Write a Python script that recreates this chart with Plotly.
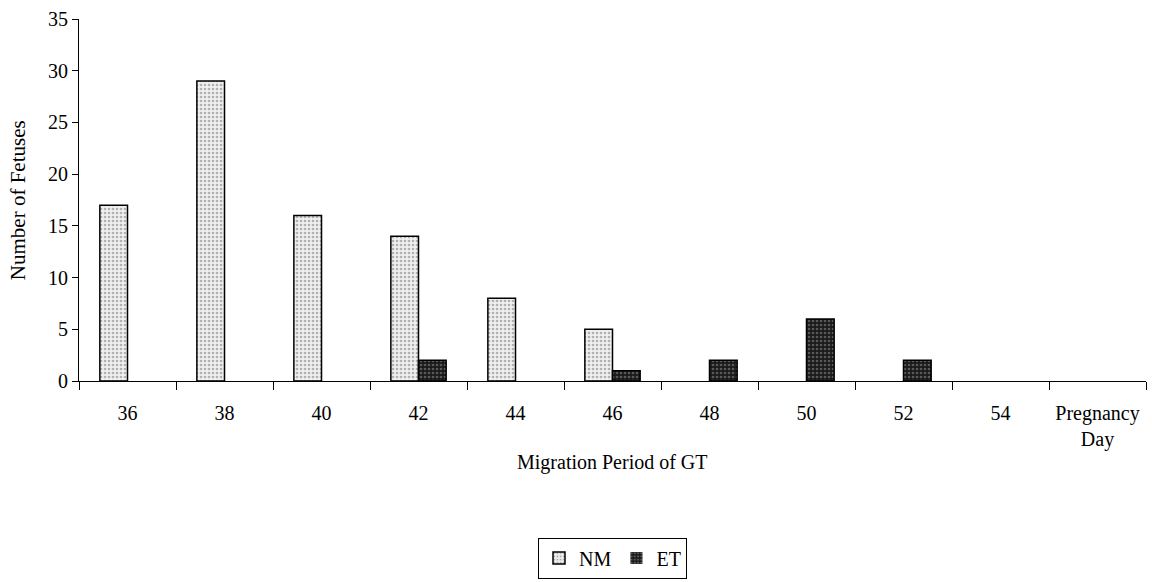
import plotly.graph_objects as go

categories = ["36", "38", "40", "42", "44", "46", "48", "50", "52", "54", "Pregnancy<br>Day"]
nm_values = [17, 29, 16, 14, 8, 5, 0, 0, 0, 0, 0]
et_values = [0, 0, 0, 2, 0, 1, 2, 6, 2, 0, 0]

FONT = "Liberation Serif"

def outline_widths(vals):
    return [1.5 if v else 0 for v in vals]

fig = go.Figure()
fig.add_trace(go.Bar(
    x=categories, y=nm_values, name="NM",
    marker=dict(color="#d8d8d8", line=dict(color="black", width=outline_widths(nm_values)),
                pattern=dict(shape=".", fgcolor="#707070", bgcolor="#f0f0f0", size=4, solidity=0.35)),
))
fig.add_trace(go.Bar(
    x=categories, y=et_values, name="ET",
    marker=dict(color="#333333", line=dict(color="black", width=outline_widths(et_values)),
                pattern=dict(shape=".", fgcolor="#9a9a9a", bgcolor="#1a1a1a", size=4, solidity=0.35)),
))

fig.update_layout(
    width=1152, height=582,
    paper_bgcolor="white", plot_bgcolor="white",
    barmode="group", bargap=0.43, bargroupgap=0,
    margin=dict(l=79, r=6, t=19, b=201, autoexpand=False),
    font=dict(family=FONT, size=20, color="black"),
    showlegend=True,
    legend=dict(orientation="h", x=0.5, xanchor="center", y=-0.489, yanchor="middle",
                bordercolor="black", borderwidth=1, font=dict(size=20, family=FONT),
                itemwidth=30, tracegroupgap=0),
    xaxis=dict(type="category", showline=True, linecolor="black", linewidth=1,
               ticks="outside", tickson="boundaries", ticklen=8, tickcolor="black",
               tickfont=dict(size=20, family=FONT), ticklabelstandoff=14,
               showgrid=False, zeroline=False),
    yaxis=dict(range=[0, 35], dtick=5, showline=True, linecolor="black", linewidth=1,
               ticks="outside", ticklen=6, tickcolor="black",
               tickfont=dict(size=20, family=FONT), showgrid=False, zeroline=False),
    annotations=[
        dict(text="Migration Period of GT", xref="paper", yref="paper", x=0.5, y=-0.224,
             xanchor="center", yanchor="middle", showarrow=False, font=dict(size=20, family=FONT)),
        dict(text="Number of Fetuses", xref="paper", yref="paper", x=-0.057, y=0.5,
             xanchor="center", yanchor="middle", textangle=-90, showarrow=False,
             font=dict(size=21, family=FONT)),
    ],
)

fig.write_html("out.html")
